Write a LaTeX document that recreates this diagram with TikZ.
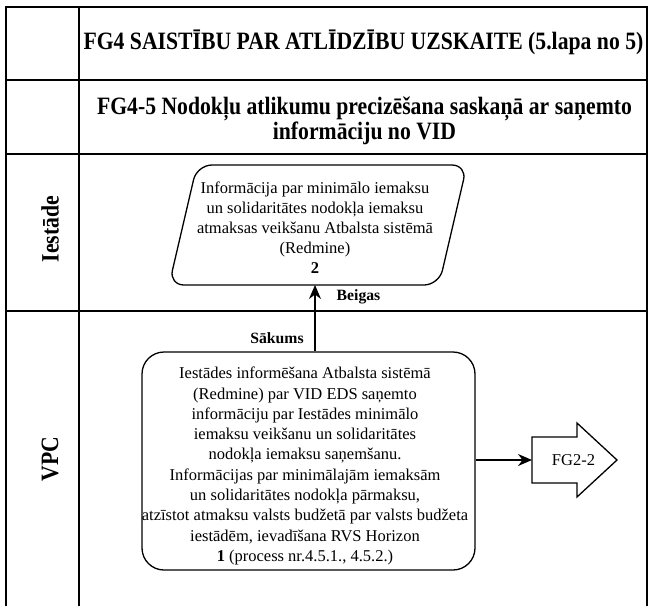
\documentclass[tikz,border=0pt]{standalone}
\usepackage{fontspec}
\setmainfont{Liberation Serif}
\usepackage{graphicx}
\usetikzlibrary{arrows.meta}
\tikzset{
  frame/.style={line width=1.3pt},
  hdr/.style={font=\bfseries\fontsize{21.7}{26}\selectfont, inner sep=0pt},
  body/.style={font=\fontsize{16.5}{20.3}\selectfont, align=center, inner sep=0pt},
  lbl/.style={font=\bfseries\fontsize{15.7}{18}\selectfont, inner sep=0pt},
  shp/.style={draw, line width=1.3pt},
  flow/.style={line width=1.3pt, -{Stealth[length=14pt,width=12pt]}},
}
\newcommand{\tall}[1]{\scalebox{1}[1.15]{#1}}
\begin{document}
\begin{tikzpicture}[x=1pt,y=-1pt]
\useasboundingbox (0,0) rectangle (651,606);
% table grid
\draw[frame] (6,606) -- (6,7) -- (647,7) -- (647,606);
\draw[frame] (79,7) -- (79,606);
\draw[frame] (6,80) -- (647,80);
\draw[frame] (6,154) -- (647,154);
\draw[frame] (6,311) -- (647,311);
% headers
\node[hdr] (title) at (363.5,42) {\tall{FG4 SAISTĪBU PAR ATLĪDZĪBU UZSKAITE (5.lapa no 5)}};
\node[hdr, align=center, font=\bfseries\fontsize{21.7}{25}\selectfont] (sub) at (364.5,121)
  {\tall{FG4-5 Nodokļu atlikumu precizēšana saskaņā ar saņemto}\\\tall{informāciju no VID}};
\node[hdr, rotate=90] (lane1) at (50,229) {\tall{Iestāde}};
\node[hdr, rotate=90] (lane2) at (50,459) {\tall{VPC}};
% parallelogram (end)
\draw[shp, rounded corners=15pt] (197,165) -- (467,165) -- (439,285) -- (169,285) -- cycle;
\node[body, font=\fontsize{16.5}{20}\selectfont] (info) at (315,228)
  {Informācija par minimālo iemaksu\\un solidaritātes nodokļa iemaksu\\atmaksas veikšanu Atbalsta sistēmā\\(Redmine)\\\textbf{2}};
\coordinate (parab) at (315,285);
% process
\node[shp, body, rounded corners=22pt, minimum width=333pt, minimum height=218pt] (proc) at (308.5,461) {};
\node[body] (proctext) at (305,466)
  {Iestādes informēšana Atbalsta sistēmā\\(Redmine) par VID EDS saņemto\\informāciju par Iestādes minimālo\\iemaksu veikšanu un solidaritātes\\nodokļa iemaksu saņemšanu.\\Informācijas par minimālajām iemaksām\\un solidaritātes nodokļa pārmaksu,\\atzīstot atmaksu valsts budžetā par valsts budžeta\\iestādēm, ievadīšana RVS Horizon\\\textbf{1} (process nr.4.5.1., 4.5.2.)};
% off-page connector
\draw[shp, line join=miter] (532,437) -- (577,437) -- (577,423) -- (617,460) -- (577,497) -- (577,483) -- (532,483) -- cycle;
\node[body] (fg) at (573.5,460) {FG2-2};
\coordinate (fgw) at (532,460);
% connectors
\draw[flow] (proc.north -| parab) -- (parab);
\draw[flow] (proc.east |- fgw) -- (fgw);
\node[lbl] (beigas) at (358.5,297) {Beigas};
\node[lbl] (sakums) at (277,338) {Sākums};
\end{tikzpicture}
\end{document}
